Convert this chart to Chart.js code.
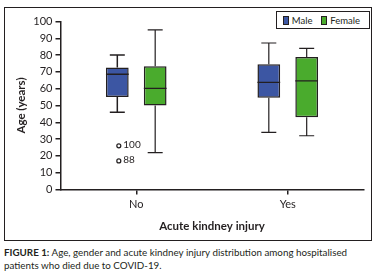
<!DOCTYPE html>
<html>
<head>
<meta charset="utf-8">
<script src="https://cdn.jsdelivr.net/npm/chart.js@4/dist/chart.umd.min.js"></script>
<style>
  html, body { margin: 0; padding: 0; background: #fff; }
  body { width: 378px; height: 279px; position: relative; overflow: hidden; font-family: Lato, "Open Sans", sans-serif; color: #231f20; }
  #frame { position: absolute; left: 4px; top: 7px; width: 368px; height: 234px; border: 1.5px solid #231f20; box-sizing: border-box; }
  #wrap { position: absolute; left: 0; top: 0; right: 0; bottom: 0; }
  #legend { position: absolute; left: 271px; top: 3px; width: 94px; height: 18px; border: 1.5px solid #231f20; box-sizing: border-box; font-size: 9.5px; display: flex; align-items: center; padding-left: 6px; background: #fff; }
  #legend span.sw { display: inline-block; width: 9px; height: 9px; border: 1px solid #231f20; box-sizing: border-box; margin-right: 3px; }
  #legend span.lb { margin-right: 9px; }
  #caption { position: absolute; left: 4px; top: 246px; width: 374px; font-size: 9.8px; line-height: 13px; color: #231f20; }
  #caption b { font-weight: 700; }
</style>
</head>
<body>
<div id="frame">
  <div id="wrap"><canvas id="chart"></canvas></div>
  <div id="legend">
    <span class="sw" style="background:#3c56a3"></span><span class="lb">Male</span>
    <span class="sw" style="background:#4aab2d"></span><span class="lb">Female</span>
  </div>
</div>
<div id="caption"><b>FIGURE 1:</b> Age, gender and acute kindney injury distribution among hospitalised patients who died due to COVID-19.</div>
<script>
/* ─── Data ───────────────────────────────────────────────────────────────── */
const categories   = ['No', 'Yes'];
const yTicks       = [0, 10, 20, 30, 40, 50, 60, 70, 80, 90, 100];

const maleMin      = [46, 34];
const maleQ1       = [55, 54.6];
const maleMedian   = [68.6, 63.8];
const maleQ3       = [72.6, 74.6];
const maleMax      = [80, 87.2];
const maleOutliers = [[26, 17], []];
const maleOutIds   = [['100', '88'], []];

const femaleMin      = [22, 32];
const femaleQ1       = [50, 43];
const femaleMedian   = [60.2, 64.6];
const femaleQ3       = [73.4, 78.8];
const femaleMax      = [95, 84];
const femaleOutliers = [[], []];
const femaleOutIds   = [[], []];

const INK = '#231f20';

/* ─── Box plot parts (whiskers, medians, outliers) ───────────────────────── */
const boxParts = [
  { min: maleMin,   med: maleMedian,   max: maleMax,   out: maleOutliers,   ids: maleOutIds },
  { min: femaleMin, med: femaleMedian, max: femaleMax, out: femaleOutliers, ids: femaleOutIds }
];

const whiskerPlugin = {
  id: 'whiskers',
  afterDatasetsDraw(chart) {
    const ctx = chart.ctx;
    const y = chart.scales.y;
    ctx.save();
    ctx.strokeStyle = INK;
    ctx.lineWidth = 1.5;
    boxParts.forEach((p, di) => {
      const meta = chart.getDatasetMeta(di);
      meta.data.forEach((bar, j) => {
        const x = bar.x, hw = bar.width / 2, cap = bar.width * 0.33;
        const ds = chart.data.datasets[di].data[j];
        const lo = y.getPixelForValue(ds[0]), hi = y.getPixelForValue(ds[1]);
        const yMin = y.getPixelForValue(p.min[j]), yMax = y.getPixelForValue(p.max[j]);
        const yMed = y.getPixelForValue(p.med[j]);
        ctx.beginPath();
        ctx.moveTo(x, hi); ctx.lineTo(x, yMax);
        ctx.moveTo(x - cap, yMax); ctx.lineTo(x + cap, yMax);
        ctx.moveTo(x, lo); ctx.lineTo(x, yMin);
        ctx.moveTo(x - cap, yMin); ctx.lineTo(x + cap, yMin);
        ctx.moveTo(x - hw, yMed); ctx.lineTo(x + hw, yMed);
        ctx.stroke();
        p.out[j].forEach((v, k) => {
          const oy = y.getPixelForValue(v);
          ctx.beginPath();
          ctx.lineWidth = 1.2;
          ctx.arc(x + 1.5, oy, 2, 0, Math.PI * 2);
          ctx.stroke();
          ctx.fillStyle = INK;
          ctx.font = '10px Lato, sans-serif';
          ctx.textBaseline = 'bottom';
          ctx.fillText(p.ids[j][k], x + 6, oy + 4);
        });
      });
    });
    ctx.restore();
  }
};

/* ─── Chart ──────────────────────────────────────────────────────────────── */
new Chart(document.getElementById('chart'), {
  type: 'bar',
  data: {
    labels: categories,
    datasets: [
      {
        label: 'Male',
        data: maleQ1.map((q, i) => [q, maleQ3[i]]),
        backgroundColor: '#3c56a3',
        borderColor: INK,
        borderWidth: 1.5,
        borderSkipped: false
      },
      {
        label: 'Female',
        data: femaleQ1.map((q, i) => [q, femaleQ3[i]]),
        backgroundColor: '#4aab2d',
        borderColor: INK,
        borderWidth: 1.5,
        borderSkipped: false
      }
    ]
  },
  options: {
    responsive: true,
    maintainAspectRatio: false,
    animation: false,
    categoryPercentage: 0.5,
    barPercentage: 0.6,
    layout: { padding: { left: 0, right: 7.5, top: 13.5, bottom: 0 } },
    plugins: {
      legend: { display: false },
      tooltip: { enabled: false }
    },
    scales: {
      x: {
        grid: { display: true, drawOnChartArea: false, offset: false, color: INK, lineWidth: 1.5, tickLength: 5 },
        border: { color: INK, width: 1.5 },
        ticks: { color: INK, font: { family: 'Lato', size: 11 }, padding: 3 },
        title: { display: true, text: 'Acute kindney injury', color: INK, font: { family: 'Lato', size: 11.5, weight: 'bold' }, padding: { top: 6, bottom: 7 } },
        afterFit: s => { s.height = 50.5; }
      },
      y: {
        min: 0,
        max: 100,
        afterBuildTicks: s => { s.ticks = yTicks.map(v => ({ value: v })); },
        grid: { display: true, drawOnChartArea: false, color: INK, lineWidth: 1.5, tickLength: 5 },
        border: { color: INK, width: 1.5 },
        ticks: { color: INK, font: { family: 'Lato', size: 11 }, padding: 3 },
        title: { display: true, text: 'Age (years)', color: INK, font: { family: 'Lato', size: 11.5, weight: 'bold' }, padding: { top: 9, bottom: 4 } },
        afterFit: s => { s.width = 55.5; }
      }
    }
  },
  plugins: [whiskerPlugin]
});
</script>
</body>
</html>
